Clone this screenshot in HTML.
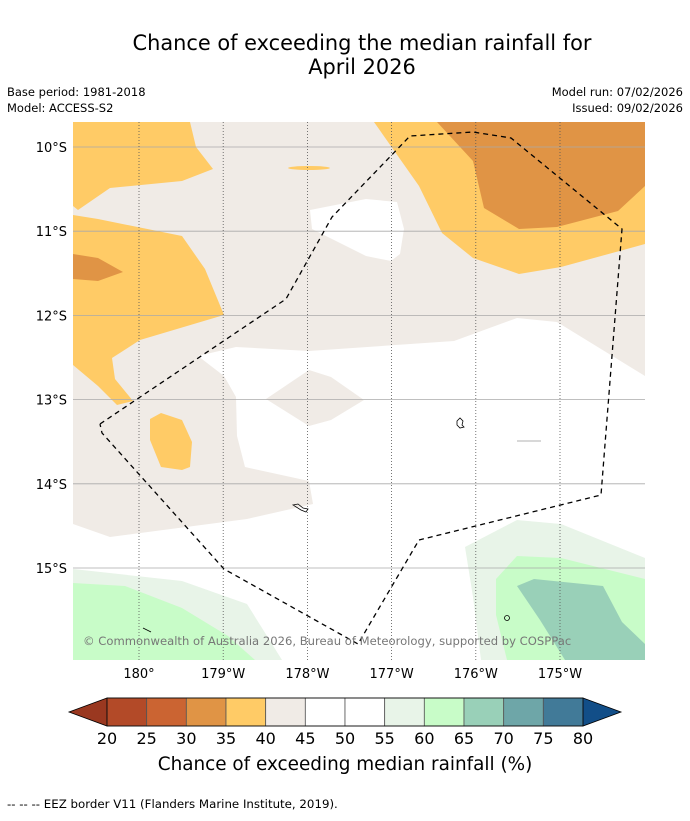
<!DOCTYPE html>
<html><head><meta charset="utf-8"><style>
body{margin:0;background:#fff;width:690px;height:816px;overflow:hidden;font-family:"Liberation Sans","DejaVu Sans",sans-serif}
svg text{font-family:"DejaVu Sans","Liberation Sans",sans-serif}
</style></head><body>
<svg width="690" height="816" viewBox="0 0 690 816">
<rect width="690" height="816" fill="#fff"/>
<text x="362" y="50" font-size="20.9" text-anchor="middle">Chance of exceeding the median rainfall for</text>
<text x="362" y="74" font-size="20.9" text-anchor="middle">April 2026</text>
<text x="7" y="96" font-size="11.5">Base period: 1981-2018</text>
<text x="7" y="112" font-size="11.5">Model: ACCESS-S2</text>
<text x="683" y="96" font-size="11.5" text-anchor="end">Model run: 07/02/2026</text>
<text x="683" y="112" font-size="11.5" text-anchor="end">Issued: 09/02/2026</text>

<defs><clipPath id="mc"><rect x="73" y="122" width="572" height="538"/></clipPath></defs>
<g clip-path="url(#mc)">
<rect x="73" y="122" width="572" height="538" fill="#f0ebe6"/>
<polygon fill="#ffcb66" points="73,122 190,122 196,147 213,169 182,181 110,188 78,210 73,206"/>
<polygon fill="#ffcb66" points="73,215 98,219 182,236 205,269 224,315 140,340 112,358 115,379 133,401 117,405 98,386 73,365"/>
<polygon fill="#e09445" points="73,254 98,258 123,272 98,281 73,279"/>
<polygon fill="#ffcb66" points="150,419 161,413 182,420 192,442 190,467 182,470 161,467 150,440"/>
<ellipse cx="309" cy="168" rx="21" ry="2" fill="#ffcb66"/>
<polygon fill="#ffcb66" points="374,122 645,122 645,244 561,267 519,274 473,258 442,233 419,186"/>
<polygon fill="#e09445" points="437,122 645,122 645,186 618,211 557,227 519,229 484,208 473,161"/>
<polygon fill="#fff" points="310,210 366,199 397,202 404,229 400,254 391,261 366,256 312,229"/>
<polygon fill="#fff" points="198,356 236,347 309,351 454,341 517,318 557,322 645,376 645,660 73,660 73,524 110,537 247,519 313,504 309,481 245,467 237,436 236,397 224,376"/>
<polygon fill="#f0ebe6" points="266,399 309,370 331,377 364,400 331,420 309,426"/>
<polygon fill="#e8f4e8" points="73,569 182,581 247,604 282,660 73,660"/>
<polygon fill="#c8fcc8" points="73,583 125,586 182,608 228,636 255,660 73,660"/>
<polygon fill="#e8f4e8" points="465,547 517,520 561,524 645,558 645,660 481,660 473,597"/>
<polygon fill="#c8fcc8" points="496,579 517,556 561,558 645,579 645,660 507,660 496,615"/>
<polygon fill="#99d0b8" points="517,586 534,579 603,586 622,622 645,644 645,660 565,660 540,620"/>
<g stroke="#aaa" stroke-width="0.8" id="hgrid"></g>
<g stroke="#555" stroke-width="0.8" stroke-dasharray="1,2" id="vgrid"></g>
<g fill="none" stroke="#000" stroke-width="0.8">
<path d="M457,421 l3,-3 3,3 -1,4 2,2 -4,1 -3,-3z"/>
<path d="M293,505 l5,-1 5,4 5,1 -2,3 -5,-2z"/>
<circle cx="507" cy="618" r="2.5"/>
<path d="M143,628 l8,4"/>
<path d="M517,441 l24,0" stroke="#999"/>
</g>
<polyline fill="none" stroke="#000" stroke-width="1.3" stroke-dasharray="5,4" points="100,424 286,299 332,217 410,136 473,132 511,138 622,229 601,495 419,540 358,644 224,569 102,433 100,424"/>
<text x="83" y="645" font-size="11.6" fill="#777">© Commonwealth of Australia 2026, Bureau of Meteorology, supported by COSPPac</text>
</g>
<g id="axlabels" font-size="13"></g>
<g id="cbar"></g>
<text x="345" y="770" font-size="18.4" text-anchor="middle">Chance of exceeding median rainfall (%)</text>
<text x="7" y="808" font-size="11.8">--  --  -- EEZ border V11 (Flanders Marine Institute, 2019).</text>
</svg>
<script>
const latLabels=["10°S","11°S","12°S","13°S","14°S","15°S"];
const latValues=[10,11,12,13,14,15];
const lonLabels=["180°","179°W","178°W","177°W","176°W","175°W"];
const lonValues=[180,179,178,177,176,175];
const binEdges=[20,25,30,35,40,45,50,55,60,65,70,75,80];
const binColors=["#b34a28","#cb6432","#e09445","#ffcb66","#f0ebe6","#ffffff","#ffffff","#e8f4e8","#c8fcc8","#99d0b8","#6ea6a8","#417a98"];
const NS="http://www.w3.org/2000/svg";
const yLat=v=>147+(v-10)*84.2;
const xLon=v=>139+(180-v)*84.2;
const hg=document.getElementById('hgrid'),vg=document.getElementById('vgrid'),ax=document.getElementById('axlabels');
latValues.forEach((v,i)=>{
 const l=document.createElementNS(NS,'line');
 l.setAttribute('x1',73);l.setAttribute('x2',645);l.setAttribute('y1',yLat(v));l.setAttribute('y2',yLat(v));
 
 
 hg.appendChild(l);
 const t=document.createElementNS(NS,'text');
 t.setAttribute('x',67);t.setAttribute('y',yLat(v)+5);t.setAttribute('text-anchor','end');t.textContent=latLabels[i];
 
 
 ax.appendChild(t);
});
lonValues.forEach((v,i)=>{
 const l=document.createElementNS(NS,'line');
 l.setAttribute('y1',122);l.setAttribute('y2',660);l.setAttribute('x1',xLon(v));l.setAttribute('x2',xLon(v));
 
 
 vg.appendChild(l);
 const t=document.createElementNS(NS,'text');
 t.setAttribute('x',xLon(v));t.setAttribute('y',678);t.setAttribute('text-anchor','middle');t.textContent=lonLabels[i];
 
 
 ax.appendChild(t);
});
const cb=document.getElementById('cbar');
const x0=107,x1=583,y0=698,h=28;
const xv=v=>x0+(v-binEdges[0])/(binEdges[binEdges.length-1]-binEdges[0])*(x1-x0);
const lt=document.createElementNS(NS,'polygon');
lt.setAttribute('points',`${x0},${y0} 69,${y0+h/2} ${x0},${y0+h}`);lt.setAttribute('fill','#9a3820');lt.setAttribute('stroke','#000');lt.setAttribute('stroke-width','0.8');


cb.appendChild(lt);
const rt=document.createElementNS(NS,'polygon');
rt.setAttribute('points',`${x1},${y0} 621,${y0+h/2} ${x1},${y0+h}`);rt.setAttribute('fill','#124e88');rt.setAttribute('stroke','#000');rt.setAttribute('stroke-width','0.8');


cb.appendChild(rt);
binColors.forEach((c,i)=>{
 const r=document.createElementNS(NS,'rect');
 r.setAttribute('x',xv(binEdges[i]));r.setAttribute('y',y0);r.setAttribute('width',xv(binEdges[i+1])-xv(binEdges[i]));r.setAttribute('height',h);
 r.setAttribute('fill',c);r.setAttribute('stroke','#555');r.setAttribute('stroke-width','0.8');
 
 
 cb.appendChild(r);
});
const fr=document.createElementNS(NS,'rect');
fr.setAttribute('x',x0);fr.setAttribute('y',y0);fr.setAttribute('width',x1-x0);fr.setAttribute('height',h);fr.setAttribute('fill','none');fr.setAttribute('stroke','#000');fr.setAttribute('stroke-width','0.8');


cb.appendChild(fr);
binEdges.forEach(v=>{
 const t=document.createElementNS(NS,'text');
 t.setAttribute('x',xv(v));t.setAttribute('y',744);t.setAttribute('text-anchor','middle');t.setAttribute('font-size','16');t.textContent=v;
 
 
 cb.appendChild(t);
});
</script>
</body></html>
